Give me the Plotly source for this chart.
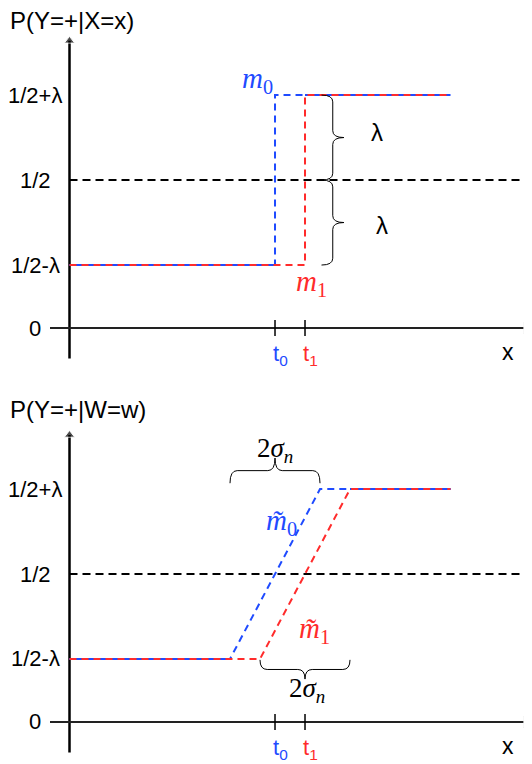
import plotly.graph_objects as go

# Step heights (probabilities) and positions on the x axis
lam = 0.287
y_low = 0.5 - lam
y_mid = 0.5
y_high = 0.5 + lam
y_ticks = [y_high, y_mid, y_low, 0.0]
y_tick_labels = ["1/2+λ", "1/2", "1/2-λ", "0"]

t0 = 6.85
t1 = 7.85
sigma_n = 1.5
x_end = 12.7

# ranges are shifted by the 8px body margin of the html page
x_range = [-2.05, 15.683]
top_range = [-0.209, 1.081]
bottom_range = [-0.169, 1.122]

BLUE = "#1f4bff"
RED = "#ff2b2b"
SANS = "Liberation Sans"
SERIF = "Liberation Serif"
DASH = "7px,5px"

fig = go.Figure()


def brace_path(a, b, depth, q=0.08):
    # curly brace from point a to point b, tip pushed out by vector depth
    pts = [(0, 0), (0, 0.5), (q, 0.5), (0.5 - q, 0.5), (0.5, 0.5), (0.5, 1),
           (0.5, 0.5), (0.5 + q, 0.5), (1 - q, 0.5), (1, 0.5), (1, 0)]
    m = [(a[0] + s * (b[0] - a[0]) + h * depth[0],
          a[1] + s * (b[1] - a[1]) + h * depth[1]) for s, h in pts]
    f = lambda p: f"{p[0]:.4f},{p[1]:.4f}"
    return (f"M {f(m[0])} Q {f(m[1])} {f(m[2])} L {f(m[3])} "
            f"Q {f(m[4])} {f(m[5])} Q {f(m[6])} {f(m[7])} L {f(m[8])} "
            f"Q {f(m[9])} {f(m[10])}")


def line(xa, ya, xs, ys, color, width, dash="solid"):
    fig.add_trace(go.Scatter(x=xs, y=ys, mode="lines", cliponaxis=False,
                             line=dict(color=color, width=width, dash=dash),
                             xaxis=xa, yaxis=ya, hoverinfo="skip"))


def panel(xa, ya, blue_x, red_x, overlaps):
    # axes with arrowheads
    line(xa, ya, [0, 0], [-0.103, 0.97], "black", 2.5)
    line(xa, ya, [-0.65, 15.2], [0, 0], "#222", 2)
    fig.add_trace(go.Scatter(x=[0, 15.22], y=[0.97, 0], mode="markers",
                             cliponaxis=False, hoverinfo="skip",
                             marker=dict(symbol=["triangle-up", "triangle-right"],
                                         size=[9, 10], color="black"),
                             xaxis=xa, yaxis=ya))
    # 1/2 reference line
    line(xa, ya, [0, x_range[1]], [y_mid, y_mid], "black", 2, "8px,5px")
    # x axis tick marks at t0, t1
    for t in (t0, t1):
        line(xa, ya, [t, t], [-0.027, 0.027], "black", 1.5)
    ys = [y_low, y_low, y_high, y_high]
    line(xa, ya, blue_x, ys, BLUE, 2, DASH)
    for (xs, yv) in overlaps:
        line(xa, ya, xs, [yv, yv], BLUE, 2)
    line(xa, ya, red_x, ys, RED, 2, DASH)

    xr, yr = xa, ya
    # y tick labels
    for v, lab in zip(y_ticks, y_tick_labels):
        fig.add_annotation(x=-1.15, y=v, xref=xr, yref=yr, text=lab,
                           showarrow=False, xanchor="center",
                           font=dict(family=SANS, size=22, color="black"))
    # t labels and x label
    fig.add_annotation(x=t0 + 0.17, y=-0.092, xref=xr, yref=yr,
                       text="t<sub>0</sub>", showarrow=False,
                       font=dict(family=SANS, size=22, color=BLUE))
    fig.add_annotation(x=t1 + 0.17, y=-0.092, xref=xr, yref=yr,
                       text="t<sub>1</sub>", showarrow=False,
                       font=dict(family=SANS, size=22, color=RED))
    fig.add_annotation(x=14.6, y=-0.081, xref=xr, yref=yr, text="x",
                       showarrow=False, font=dict(family=SANS, size=23, color="black"))


# top panel: step functions
panel("x", "y", [0, t0, t0, x_end], [0, t1, t1, x_end],
      [([0, t0], y_low), ([t1, x_end], y_high)])
# bottom panel: smoothed ramps of width 2*sigma_n
panel("x2", "y2", [0, t0 - sigma_n, t0 + sigma_n, x_end],
      [0, t1 - sigma_n, t1 + sigma_n, x_end],
      [([0, t0 - sigma_n], y_low), ([t1 + sigma_n, x_end], y_high)])

# titles
fig.add_annotation(x=-2.05, y=1.04, xref="x", yref="y", text="P(Y=+|X=x)",
                   showarrow=False, xanchor="left",
                   font=dict(family=SANS, size=24, color="black"))
fig.add_annotation(x=-2.05, y=1.055, xref="x2", yref="y2", text="P(Y=+|W=w)",
                   showarrow=False, xanchor="left",
                   font=dict(family=SANS, size=24, color="black"))

# curve labels
fig.add_annotation(x=t0 - 0.57, y=0.838, xref="x", yref="y",
                   text="<i>m</i><sub>0</sub>", showarrow=False,
                   font=dict(family=SERIF, size=29, color=BLUE))
fig.add_annotation(x=t1 + 0.23, y=0.152, xref="x", yref="y",
                   text="<i>m</i><sub>1</sub>", showarrow=False,
                   font=dict(family=SERIF, size=29, color=RED))
fig.add_annotation(x=t0 + 0.23, y=0.676, xref="x2", yref="y2",
                   text="<i>m̃</i><sub>0</sub>", showarrow=False,
                   font=dict(family=SERIF, size=29, color=BLUE))
fig.add_annotation(x=t1 + 0.33, y=0.311, xref="x2", yref="y2",
                   text="<i>m̃</i><sub>1</sub>", showarrow=False,
                   font=dict(family=SERIF, size=29, color=RED))

# braces
xb = t1 + 0.55
brace_line = dict(color="black", width=1)
fig.add_shape(type="path", xref="x", yref="y", line=brace_line,
              path=brace_path((xb, y_high), (xb, y_mid), (0.75, 0)))
fig.add_shape(type="path", xref="x", yref="y", line=brace_line,
              path=brace_path((xb, y_mid), (xb, y_low), (0.75, 0)))
fig.add_annotation(x=xb + 1.85, y=0.662, xref="x", yref="y", text="λ",
                   showarrow=False, font=dict(family=SANS, size=24, color="black"))
fig.add_annotation(x=xb + 2.0, y=0.345, xref="x", yref="y", text="λ",
                   showarrow=False, font=dict(family=SANS, size=24, color="black"))

fig.add_shape(type="path", xref="x2", yref="y2", line=brace_line,
              path=brace_path((t0 - sigma_n, y_high + 0.02),
                              (t0 + sigma_n, y_high + 0.02), (0, 0.085)))
fig.add_shape(type="path", xref="x2", yref="y2", line=brace_line,
              path=brace_path((t1 - sigma_n, y_low - 0.003),
                              (t1 + sigma_n, y_low - 0.003), (0, -0.065)))
fig.add_annotation(x=t0, y=0.919, xref="x2", yref="y2",
                   text="2<i>σ</i><sub><i>n</i></sub>", showarrow=False,
                   font=dict(family=SERIF, size=27, color="black"))
fig.add_annotation(x=t1 + 0.07, y=0.108, xref="x2", yref="y2",
                   text="2<i>σ</i><sub><i>n</i></sub>", showarrow=False,
                   font=dict(family=SERIF, size=27, color="black"))

axis_off = dict(visible=False, fixedrange=True)
fig.update_layout(
    width=532, height=764,
    margin=dict(l=0, r=0, t=0, b=0),
    paper_bgcolor="white", plot_bgcolor="white",
    showlegend=False,
    xaxis=dict(domain=[0, 1], range=x_range, anchor="y", **axis_off),
    xaxis2=dict(domain=[0, 1], range=x_range, anchor="y2", **axis_off),
    yaxis=dict(domain=[0.5, 1], range=top_range, anchor="x", **axis_off),
    yaxis2=dict(domain=[0, 0.5], range=bottom_range, anchor="x2", **axis_off),
)

fig.write_html("out.html")
